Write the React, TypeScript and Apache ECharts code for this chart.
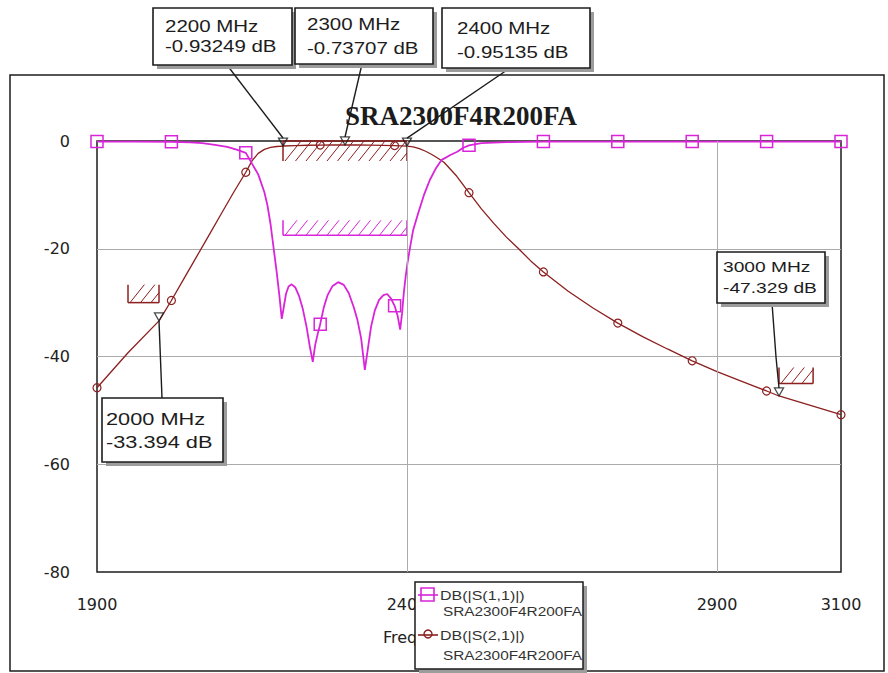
import React, { useEffect, useRef } from "react";
import * as echarts from "echarts";

// ---------------- data ----------------
const MODEL = "SRA2300F4R200FA";
const S11_NAME = "DB(|S(1,1)|)";
const S21_NAME = "DB(|S(2,1)|)";

const S21_FREQ = [
  1900, 1950, 2000, 2020, 2040, 2060, 2080, 2100, 2120, 2140, 2150, 2160, 2170, 2180, 2190,
  2200, 2220, 2240, 2260, 2280, 2300, 2320, 2340, 2360, 2380, 2400, 2410, 2420, 2430, 2440,
  2450, 2460, 2480, 2500, 2520, 2540, 2560, 2580, 2600, 2620, 2660, 2700, 2740, 2780, 2820,
  2860, 2900, 2940, 2980, 3000, 3040, 3080, 3100,
];
const S21_DB = [
  -45.8, -39.3, -33.394, -29.6, -25.6, -21.6, -17.6, -13.6, -9.6, -5.8, -3.7, -2.3, -1.55, -1.2, -1.02,
  -0.93249, -0.84, -0.79, -0.76, -0.745, -0.73707, -0.74, -0.76, -0.8, -0.86, -0.95135, -1.1, -1.4, -1.9, -2.5,
  -3.2, -4.0, -6.5, -9.6, -12.6, -15.3, -17.8, -20.0, -22.3, -24.3, -27.9, -31.0, -33.8, -36.3, -38.6,
  -40.8, -42.8, -44.6, -46.4, -47.329, -48.7, -50.1, -50.8,
];

const S11_FREQ = [
  1900, 1960, 2020, 2050, 2070, 2090, 2110, 2125, 2140, 2150, 2160, 2170, 2175, 2180, 2185,
  2190, 2194, 2198, 2201, 2205, 2209, 2214, 2220, 2226, 2232, 2238, 2243, 2248, 2252, 2256,
  2260, 2266, 2272, 2280, 2289, 2298, 2306, 2314, 2320, 2326, 2332, 2337, 2342, 2348, 2355,
  2362, 2368, 2374, 2380, 2385, 2389, 2392, 2395, 2398, 2401, 2405, 2410, 2418, 2428, 2437,
  2447, 2456, 2470, 2481, 2490, 2500, 2520, 2560, 2620, 2740, 2860, 2980, 3100,
];
const S11_DB = [
  -0.1, -0.1, -0.15, -0.25, -0.4, -0.7, -1.1, -1.6, -2.2, -4.2, -6.2, -9.5, -12.0, -15.5, -20.0,
  -24.5, -28.5, -33.0, -31.0, -28.3, -27.0, -26.6, -27.2, -28.8, -31.2, -34.5, -38.0, -41.0, -37.8, -35.8,
  -34.0, -30.8, -28.6, -26.9, -26.2, -26.7, -28.2, -30.8, -33.2, -36.6, -42.5, -38.5, -34.5, -31.5, -29.5,
  -28.6, -28.4, -29.2, -30.6, -32.5, -35.0, -32.0, -28.0, -25.0, -22.5, -19.7, -16.5, -13.4, -9.8, -7.2,
  -5.0, -3.5, -2.6, -2.0, -1.3, -0.8, -0.4, -0.2, -0.1, -0.1, -0.1, -0.1, -0.1,
];

const MARKER_FREQS = [1900, 2020, 2140, 2260, 2380, 2500, 2620, 2740, 2860, 2980, 3100];
const X_TICKS = [1900, 2400, 2900, 3100];
const X_GRID = [2400, 2900];
const X_MIN = 1900;
const X_MAX = 3100;
const Y_MIN = -80;
const Y_MAX = 0;
const Y_STEP = 20;

const CALLOUT_FREQS = [2200, 2300, 2400, 2000, 3000];

// limit lines (goals)
const SPEC_START = [2200, 2200, 1950, 3000];
const SPEC_END = [2400, 2400, 2000, 3055];
const SPEC_LIMIT = [0, -17.5, -30, -45];
const SPEC_SIDE = [1, -1, -1, -1]; // 1: hatch below line, -1: hatch above
const SPEC_TRACE = [1, 0, 1, 1]; // 0: S11, 1: S21

// ---------------- styles / layout ----------------
const S11_COLOR = "#d924d9";
const S21_COLOR = "#8c1f1f";
const GRID_COLOR = "#ababab";
const INK = "#1c1c1c";
const HATCH_DEPTH = [20, 15, 18, 16];
const SANS = "Liberation Sans, Arial, sans-serif";
const WIDE = 1.28;

const CALLOUT_BOXES = [
  { x: 153, y: 8, w: 139, h: 57, tx: 165, ty: [26, 46], fs: 16, ax: 227, ay: 65, below: false, bend: null },
  { x: 295, y: 8, w: 138, h: 56, tx: 307, ty: [24, 48], fs: 16, ax: 362, ay: 64, below: false, bend: null },
  { x: 442, y: 8, w: 148, h: 60, tx: 457, ty: [28, 52], fs: 16, ax: 510, ay: 68, below: false, bend: null },
  { x: 102, y: 398, w: 121, h: 64, tx: 106, ty: [419, 442], fs: 17, ax: 162, ay: 398, below: true, bend: null },
  { x: 717, y: 252, w: 108, h: 51, tx: 723, ty: [267, 288], fs: 15, ax: 772, ay: 303, below: false, bend: [776, 357] },
];

function seriesData(freqs: number[], vals: number[]) {
  return freqs.map((f, i) =>
    MARKER_FREQS.includes(f) ? [f, vals[i]] : { value: [f, vals[i]], symbol: "none" }
  );
}

function wideText(text: string, x: number, y: number, fs: number, z: number, extra: any = {}) {
  return {
    type: "text",
    x,
    y,
    scaleX: WIDE,
    z,
    style: {
      text,
      fontSize: fs,
      fontFamily: SANS,
      fill: INK,
      align: "left",
      verticalAlign: "middle",
      ...extra,
    },
  };
}

export default function App() {
  const ref = useRef<HTMLDivElement>(null);

  useEffect(() => {
    if (!ref.current) return;
    const chart = echarts.init(ref.current, null, { renderer: "svg" });

    const option: any = {
      animation: false,
      backgroundColor: "#ffffff",
      textStyle: { fontFamily: SANS },
      grid: {
        left: 97,
        top: 141,
        right: 47,
        bottom: 101,
        show: true,
        borderColor: INK,
        borderWidth: 1.5,
        backgroundColor: "transparent",
      },
      xAxis: {
        type: "value",
        min: X_MIN,
        max: X_MAX,
        axisLine: { show: false },
        axisTick: { show: false },
        splitLine: { show: false },
        axisLabel: {
          customValues: X_TICKS,
          formatter: (v: number) => String(v),
          margin: 24,
          fontSize: 16,
          fontFamily: "DejaVu Sans",
          color: "#222",
        },
      },
      yAxis: {
        type: "value",
        min: Y_MIN,
        max: Y_MAX,
        interval: Y_STEP,
        axisLine: { show: false },
        axisTick: { show: false },
        splitLine: {
          show: true,
          showMinLine: false,
          showMaxLine: false,
          lineStyle: { color: GRID_COLOR, width: 1 },
        },
        axisLabel: {
          margin: 27,
          fontSize: 16,
          fontFamily: "DejaVu Sans",
          color: "#222",
        },
      },
      series: [
        {
          type: "custom",
          name: "specs",
          z: 2,
          silent: true,
          encode: { x: [0, 1], y: 2 },
          data: SPEC_START.map((s, i) => [s, SPEC_END[i], SPEC_LIMIT[i], SPEC_SIDE[i], SPEC_TRACE[i]]),
          renderItem: (params: any, api: any) => {
            const i = params.dataIndex;
            const a = api.coord([api.value(0), api.value(2)]);
            const b = api.coord([api.value(1), api.value(2)]);
            const side = api.value(3);
            const color = api.value(4) === 0 ? S11_COLOR : S21_COLOR;
            const depth = HATCH_DEPTH[i];
            const yl = a[1];
            const yf = yl + side * depth;
            const yTop = Math.min(yl, yf);
            const yBot = Math.max(yl, yf);
            const ls = { stroke: color, lineWidth: 1.5 };
            const children: any[] = [
              { type: "line", shape: { x1: a[0], y1: yl, x2: b[0], y2: yl }, style: ls },
              { type: "line", shape: { x1: a[0], y1: yl, x2: a[0], y2: yf }, style: ls },
              { type: "line", shape: { x1: b[0], y1: yl, x2: b[0], y2: yf }, style: ls },
            ];
            const dx = depth * 0.8;
            const step = 10.5;
            for (let x = a[0] + 2; x < b[0] - 1; x += step) {
              let x2 = x + dx;
              let y2 = yTop;
              if (x2 > b[0]) {
                x2 = b[0];
                y2 = yBot - ((b[0] - x) / dx) * depth;
              }
              children.push({
                type: "line",
                shape: { x1: x, y1: yBot, x2, y2 },
                style: { stroke: color, lineWidth: 1 },
              });
            }
            return { type: "group", children };
          },
          markLine: {
            silent: true,
            symbol: ["none", "none"],
            label: { show: false },
            lineStyle: { color: GRID_COLOR, type: "solid", width: 1 },
            data: X_GRID.map((x) => ({ xAxis: x })),
          },
        },
        {
          type: "line",
          name: S21_NAME,
          z: 3,
          data: seriesData(S21_FREQ, S21_DB),
          symbol: "circle",
          symbolSize: 8,
          showAllSymbol: true,
          clip: false,
          lineStyle: { color: S21_COLOR, width: 1.3 },
          itemStyle: { color: "rgba(255,255,255,0)", borderColor: S21_COLOR, borderWidth: 1.2 },
        },
        {
          type: "line",
          name: S11_NAME,
          z: 4,
          data: seriesData(S11_FREQ, S11_DB),
          symbol: "rect",
          symbolSize: 12,
          showAllSymbol: true,
          clip: false,
          lineStyle: { color: S11_COLOR, width: 1.8 },
          itemStyle: { color: "rgba(255,255,255,0)", borderColor: S11_COLOR, borderWidth: 1.5 },
        },
        {
          type: "scatter",
          name: "markers",
          z: 6,
          silent: true,
          data: CALLOUT_FREQS.map((f) => [f, S21_DB[S21_FREQ.indexOf(f)]]),
          symbol: "path://M0,0L10,0L5,9Z",
          symbolSize: [9, 8],
          symbolOffset: [0, -4],
          itemStyle: { color: "rgba(255,255,255,0)", borderColor: INK, borderWidth: 1.3 },
        },
      ],
    };

    chart.setOption(option);

    const graphics: any[] = [];
    // outer frame
    graphics.push({
      type: "rect",
      z: 0,
      shape: { x: 10, y: 75, width: 874, height: 596 },
      style: { fill: "none", stroke: INK, lineWidth: 1.5 },
    });
    // title
    graphics.push({
      type: "text",
      x: 345,
      y: 116,
      z: 5,
      style: {
        text: MODEL,
        fontSize: 27,
        fontWeight: "bold",
        fontFamily: "Liberation Serif, Times New Roman, serif",
        fill: INK,
        align: "left",
        verticalAlign: "middle",
      },
    });
    // x-axis name
    graphics.push({
      type: "text",
      x: 383,
      y: 637,
      z: 5,
      style: {
        text: "Frequency (MHz)",
        fontSize: 16,
        fontFamily: "DejaVu Sans",
        fill: "#222",
        align: "left",
        verticalAlign: "middle",
      },
    });

    // callouts
    CALLOUT_FREQS.forEach((f, i) => {
      const db = S21_DB[S21_FREQ.indexOf(f)];
      const p = chart.convertToPixel({ xAxisIndex: 0, yAxisIndex: 0 }, [f, db]) as number[];
      const b = CALLOUT_BOXES[i];
      const target = b.below ? [p[0], p[1]] : [p[0], p[1] - 8];
      const pts: number[][] = [[b.ax, b.ay]];
      if (b.bend) pts.push(b.bend);
      pts.push(target);
      graphics.push({
        type: "polyline",
        z: 20,
        shape: { points: pts },
        style: { stroke: INK, lineWidth: 1.4, fill: "none" },
      });
      graphics.push({
        type: "rect",
        z: 21,
        shape: { x: b.x + 4, y: b.y + 4, width: b.w, height: b.h },
        style: { fill: "#9c9c9c", stroke: "none" },
      });
      graphics.push({
        type: "rect",
        z: 22,
        shape: { x: b.x, y: b.y, width: b.w, height: b.h },
        style: { fill: "#ffffff", stroke: INK, lineWidth: 1.6 },
      });
      graphics.push(wideText(`${f} MHz`, b.tx, b.ty[0], b.fs, 23));
      graphics.push(wideText(`${db} dB`, b.tx, b.ty[1], b.fs, 23));
    });

    // legend box
    const lx = 415;
    const ly = 582;
    graphics.push({
      type: "rect",
      z: 99,
      shape: { x: lx + 4, y: ly + 4, width: 168, height: 87 },
      style: { fill: "#9c9c9c", stroke: "none" },
    });
    graphics.push({
      type: "rect",
      z: 100,
      shape: { x: lx, y: ly, width: 168, height: 87 },
      style: { fill: "#ffffff", stroke: INK, lineWidth: 1.5 },
    });
    // S11 icon
    graphics.push({
      type: "line",
      z: 101,
      shape: { x1: lx + 3, y1: ly + 13, x2: lx + 23, y2: ly + 13 },
      style: { stroke: S11_COLOR, lineWidth: 1.6 },
    });
    graphics.push({
      type: "rect",
      z: 101,
      shape: { x: lx + 6, y: ly + 6, width: 13, height: 13 },
      style: { fill: "none", stroke: S11_COLOR, lineWidth: 1.6 },
    });
    // S21 icon
    graphics.push({
      type: "line",
      z: 101,
      shape: { x1: lx + 3, y1: ly + 53, x2: lx + 23, y2: ly + 53 },
      style: { stroke: S21_COLOR, lineWidth: 1.6 },
    });
    graphics.push({
      type: "circle",
      z: 101,
      shape: { cx: lx + 13, cy: ly + 52, r: 4 },
      style: { fill: "none", stroke: S21_COLOR, lineWidth: 1.4 },
    });
    graphics.push(wideText(S11_NAME, lx + 25, ly + 14, 12.5, 101, { fill: "#333" }));
    graphics.push(wideText(MODEL, lx + 28, ly + 30, 12, 101, { fill: "#333" }));
    graphics.push(wideText(S21_NAME, lx + 25, ly + 54, 12.5, 101, { fill: "#333" }));
    graphics.push(wideText(MODEL, lx + 28, ly + 74, 12, 101, { fill: "#333" }));

    chart.setOption({ graphic: graphics });

    return () => {
      chart.dispose();
    };
  }, []);

  return (
    <div
      ref={ref}
      style={{ position: "fixed", left: 0, top: 0, width: 888, height: 673, background: "#fff" }}
    />
  );
}
